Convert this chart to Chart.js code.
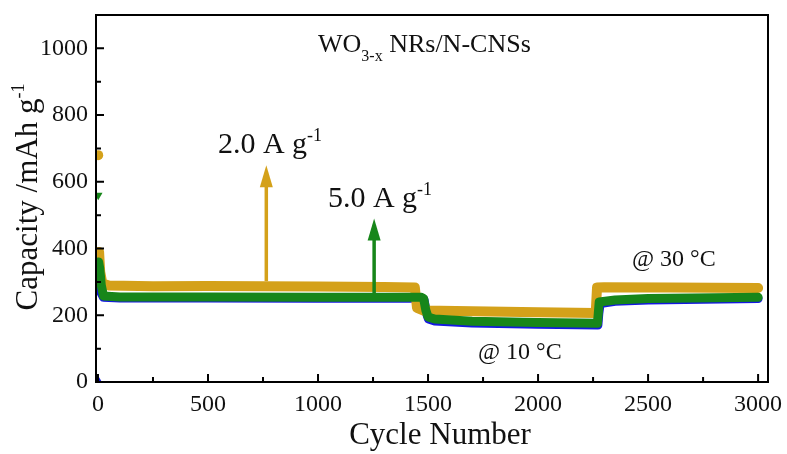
<!DOCTYPE html>
<html>
<head>
<meta charset="utf-8">
<script src="https://cdn.jsdelivr.net/npm/chart.js@4.4.1/dist/chart.umd.min.js"></script>
<style>
html, body { margin: 0; padding: 0; background: #fff; }
</style>
</head>
<body>
<canvas id="capacityChart" width="787" height="454"></canvas>
<script>
// cycle / capacity (mAh g-1)
var goldCycles   = [1, 5, 10, 20, 50, 250, 500, 1000, 1300, 1440, 1450, 1480, 1700, 2000, 2262, 2268, 2300, 2600, 3000];
var goldCapacity = [680, 390, 330, 295, 289, 287, 288, 286, 285, 283, 222, 214, 212, 209, 207, 283, 284, 283, 282];

var greenCycles   = [1, 3, 8, 15, 25, 100, 500, 1000, 1470, 1480, 1490, 1500, 1530, 1700, 2000, 2270, 2278, 2350, 2500, 3000];
var greenCapacity = [560, 360, 340, 290, 258, 255, 255, 254, 254, 250, 215, 195, 189, 182, 178, 176, 240, 246, 250, 254];

var blueCycles   = [1, 3, 6, 12, 25, 100, 500, 1000, 1470, 1482, 1492, 1502, 1530, 1700, 2000, 2272, 2276, 2282, 2350, 2500, 3000];
var blueCapacity = [4, 330, 300, 270, 254, 252, 252, 251, 251, 246, 208, 189, 183, 177, 173, 171, 205, 235, 242, 246, 250];

var xTicks = [0, 500, 1000, 1500, 2000, 2500, 3000];
var yTicks = [0, 200, 400, 600, 800, 1000];

// current density arrows: cycle, from, to
var arrowCycles = [765, 1255];
var arrowFrom   = [302, 266];
var arrowTo     = [650, 490];

var SERIF = '"Liberation Serif", "Times New Roman", serif';
var GOLD = '#d4a11a';
var GREEN = '#17861a';
var BLUE = '#1418e0';

function toPoints(xs, ys) {
    return xs.map(function (x, i) { return { x: x, y: ys[i] }; });
}

function series(label, xs, ys, color, style, rot, width, order) {
    return {
        label: label,
        data: toPoints(xs, ys),
        showLine: true,
        borderColor: color,
        backgroundColor: color,
        borderWidth: width,
        borderCapStyle: 'round',
        borderJoinStyle: 'round',
        pointStyle: style,
        rotation: rot,
        pointRadius: function (ctx) { return ctx.dataIndex === 0 ? 5 : 0; },
        pointBorderWidth: 0,
        segment: {
            borderColor: function (ctx) { return ctx.p0DataIndex === 0 ? 'rgba(0,0,0,0)' : undefined; }
        },
        tension: 0,
        order: order
    };
}

// draw text pieces with super/subscripts, returns width
function richText(ctx, parts, x, y, measureOnly) {
    var cx = x;
    parts.forEach(function (p) {
        ctx.font = p.size + 'px ' + SERIF;
        if (!measureOnly) ctx.fillText(p.t, cx, y + (p.dy || 0));
        cx += ctx.measureText(p.t).width;
    });
    return cx - x;
}

var decorPlugin = {
    id: 'decor',
    afterDatasetsDraw: function (chart) {
        var ctx = chart.ctx;
        var a = chart.chartArea;
        var xs = chart.scales.x, ys = chart.scales.y;
        ctx.save();

        // arrows
        var arrowColors = [GOLD, GREEN];
        arrowCycles.forEach(function (c, i) {
            var px = xs.getPixelForValue(c);
            var y0 = ys.getPixelForValue(arrowFrom[i]);
            var y1 = ys.getPixelForValue(arrowTo[i]);
            ctx.strokeStyle = arrowColors[i];
            ctx.fillStyle = arrowColors[i];
            ctx.lineWidth = 3.5;
            ctx.beginPath();
            ctx.moveTo(px, y0);
            ctx.lineTo(px, y1 + 18);
            ctx.stroke();
            ctx.beginPath();
            ctx.moveTo(px, y1);
            ctx.lineTo(px - 6.5, y1 + 22);
            ctx.lineTo(px + 6.5, y1 + 22);
            ctx.closePath();
            ctx.fill();
        });

        // frame
        ctx.strokeStyle = '#000';
        ctx.lineWidth = 2;
        ctx.strokeRect(a.left, a.top, a.right - a.left, a.bottom - a.top);

        // inward ticks
        ctx.beginPath();
        var v, p, len;
        for (v = 0; v <= 3000; v += 250) {
            p = xs.getPixelForValue(v);
            len = v % 500 === 0 ? 8 : 5;
            ctx.moveTo(p, a.bottom);
            ctx.lineTo(p, a.bottom - len);
        }
        for (v = 0; v <= 1000; v += 100) {
            p = ys.getPixelForValue(v);
            len = v % 200 === 0 ? 8 : 5;
            ctx.moveTo(a.left, p);
            ctx.lineTo(a.left + len, p);
        }
        ctx.stroke();

        // annotations
        ctx.fillStyle = '#111';
        ctx.textBaseline = 'alphabetic';
        ctx.textAlign = 'left';
        richText(ctx, [{ t: 'WO', size: 26 }, { t: '3-x', size: 16, dy: 9 }, { t: ' NRs/N-CNSs', size: 26 }],
            xs.getPixelForValue(1000), ys.getPixelForValue(988));
        richText(ctx, [{ t: '2.0 A g', size: 30 }, { t: '-1', size: 18, dy: -12 }],
            xs.getPixelForValue(545), ys.getPixelForValue(686));
        richText(ctx, [{ t: '5.0 A g', size: 30 }, { t: '-1', size: 18, dy: -12 }],
            xs.getPixelForValue(1045), ys.getPixelForValue(524));
        richText(ctx, [{ t: '@ 30 °C', size: 24 }], xs.getPixelForValue(2427), ys.getPixelForValue(347));
        richText(ctx, [{ t: '@ 10 °C', size: 24 }], xs.getPixelForValue(1727), ys.getPixelForValue(69));

        // axis titles
        var xt = [{ t: 'Cycle Number', size: 31 }];
        var w = richText(ctx, xt, 0, 0, true);
        richText(ctx, xt, (a.left + a.right) / 2 - w / 2 + 8, 444);

        var yt = [{ t: 'Capacity /mAh g', size: 31 }, { t: '-1', size: 18, dy: -13 }];
        ctx.translate(37, 197);
        ctx.rotate(-Math.PI / 2);
        w = richText(ctx, yt, 0, 0, true);
        richText(ctx, yt, -w / 2, 0);
        ctx.restore();
    }
};

var tickFont = { family: SERIF, size: 24 };
function plainLabel(v) { return String(v); }

new Chart(document.querySelector('#capacityChart').getContext('2d'), {
    type: 'scatter',
    data: {
        datasets: [
            series('green', greenCycles, greenCapacity, GREEN, 'triangle', 180, 9, 1),
            series('gold', goldCycles, goldCapacity, GOLD, 'circle', 0, 10, 2),
            series('blue', blueCycles, blueCapacity, BLUE, 'triangle', 0, 9, 3)
        ]
    },
    options: {
        responsive: false,
        animation: false,
        layout: { padding: { top: 15, right: 19, left: 0, bottom: 0 } },
        plugins: { legend: { display: false }, tooltip: { enabled: false } },
        scales: {
            x: {
                type: 'linear',
                min: -9,
                max: 3045,
                afterFit: function (s) {
                    s.height = 72;
                    s.paddingLeft = 0; s.paddingRight = 0;
                },
                afterBuildTicks: function (s) { s.ticks = xTicks.map(function (v) { return { value: v }; }); },
                grid: { display: false, drawTicks: false },
                border: { display: false },
                ticks: { font: tickFont, color: '#111', padding: 8, maxRotation: 0, callback: plainLabel }
            },
            y: {
                min: 0,
                max: 1100,
                afterFit: function (s) {
                    s.width = 96;
                    s.paddingTop = 0; s.paddingBottom = 0;
                },
                afterBuildTicks: function (s) { s.ticks = yTicks.map(function (v) { return { value: v }; }); },
                grid: { display: false, drawTicks: false },
                border: { display: false },
                ticks: { font: tickFont, color: '#111', padding: 8, callback: plainLabel }
            }
        }
    },
    plugins: [decorPlugin]
});
</script>
</body>
</html>
